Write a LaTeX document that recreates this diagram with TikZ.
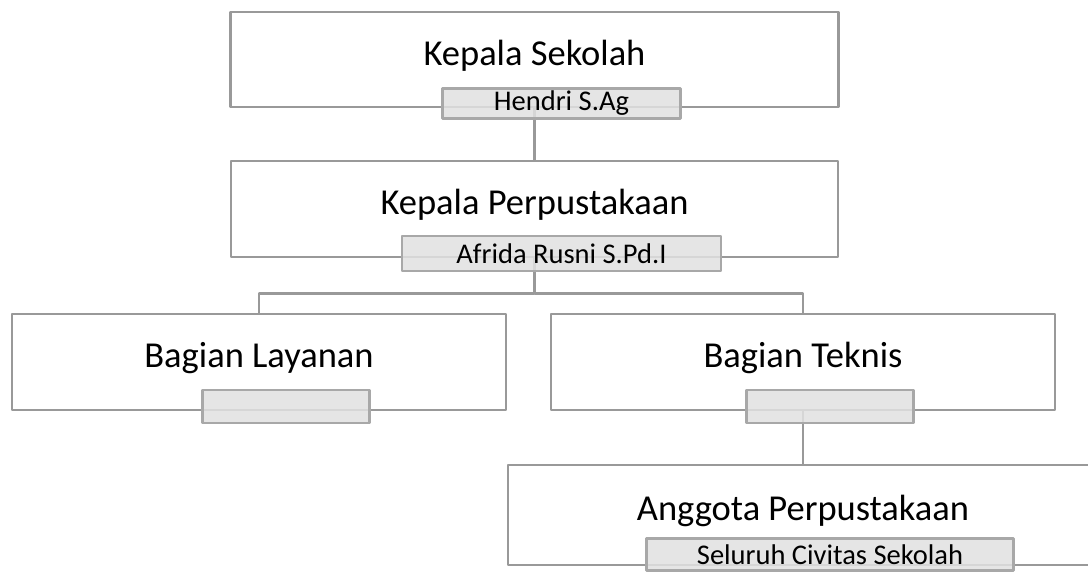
\documentclass[tikz,border=0pt]{standalone}
\usepackage{fontspec}
\setmainfont{Carlito}
\definecolor{boxline}{HTML}{999999}
\definecolor{tagfill}{HTML}{E1E1E1}
\definecolor{tagline}{HTML}{A8A8A8}
\tikzset{
  unit/.style={draw=boxline, line width=2.5pt, fill=white, minimum height=95pt,
    text height=24pt, text depth=13pt, font=\fontsize{36.5}{44}\selectfont},
  tag/.style={draw=tagline, line width=2.5pt, fill=tagfill, fill opacity=.85,
    text opacity=1, minimum height=32pt, inner sep=0pt, font=\fontsize{28.5}{34}\selectfont},
  link/.style={draw=boxline, line width=2.5pt}
}
\begin{document}
\begin{tikzpicture}[x=1pt, y=-1pt, line join=round]
  \useasboundingbox (0,0) rectangle (1088,571);
  % boxes
  \node[unit, minimum width=608pt] (ks) at (534.5,59.5) {Kepala Sekolah};
  \node[unit, minimum width=607pt, minimum height=96pt] (kp) at (534.5,209) {Kepala Perpustakaan};
  \node[unit, minimum width=494pt, minimum height=96pt] (bl) at (259,362) {Bagian Layanan};
  \node[unit, minimum width=504pt, minimum height=96pt] (bt) at (803,362) {Bagian Teknis};
  \node[unit, minimum width=590pt, minimum height=100pt] (ag) at (803,515) {Anggota Perpustakaan};
  % connectors
  \draw[link] (ks.south) -- (kp.north);
  \draw[link] (kp.south) -- ++(0,35) coordinate (fork) -| (bl.north);
  \draw[link] (fork) -| (bt.north);
  \draw[link] (bt.south) -- (ag.north);
  % name tags
  \node[tag, minimum width=238pt, minimum height=30pt] (tks) at ([shift={(27,-5)}]ks.south) {Hendri S.Ag};
  \node[tag, minimum width=319pt, minimum height=35pt] (tkp) at ([shift={(27,-5)}]kp.south) {Afrida Rusni S.Pd.I};
  \node[tag, minimum width=167pt, minimum height=33pt] (tbl) at ([shift={(27,-5)}]bl.south) {};
  \node[tag, minimum width=167pt, minimum height=33pt] (tbt) at ([shift={(27,-5)}]bt.south) {};
  \node[tag, minimum width=367pt] (tag5) at ([shift={(27,-12)}]ag.south) {Seluruh Civitas Sekolah};
\end{tikzpicture}
\end{document}
